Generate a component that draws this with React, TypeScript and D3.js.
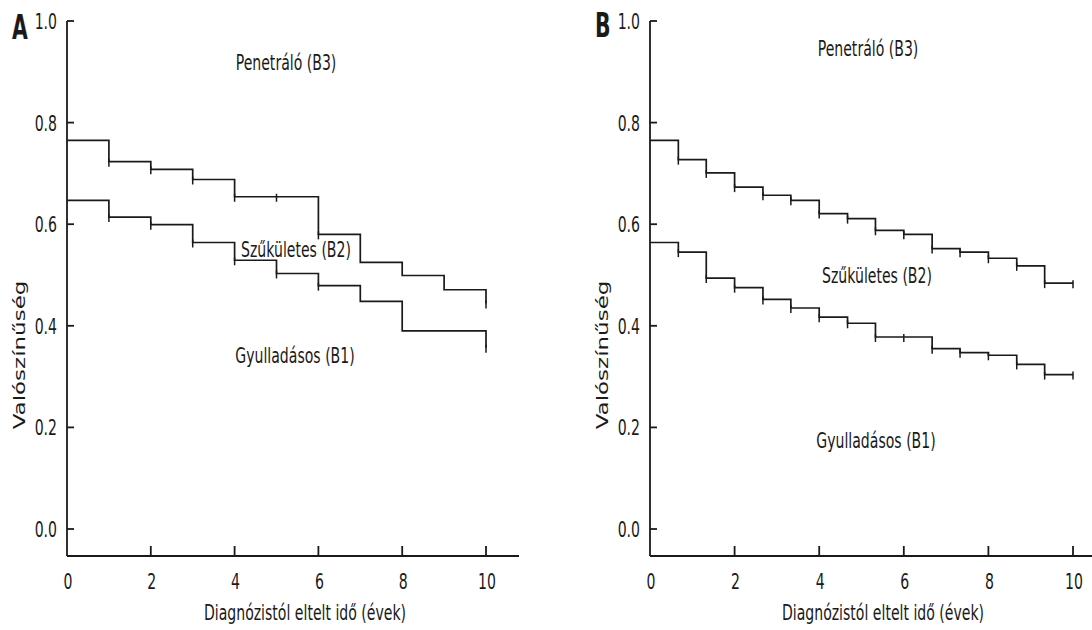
import React from "react";
import * as d3 from "d3";

// ---------- data ----------
const Y_TICKS = [0, 0.2, 0.4, 0.6, 0.8, 1.0];
const X_TICKS = [0, 2, 4, 6, 8, 10];

const REGION_LABELS = ["Penetráló (B3)", "Szűkületes (B2)", "Gyulladásos (B1)"];
const X_TITLE = "Diagnózistól eltelt idő (évek)";
const Y_TITLE = "Valószínűség";

// Panel A – upper boundary (B3 / B2)
const timesA_upper = [0, 1, 2, 3, 4, 6, 7, 8, 9, 10];
const valsA_upper = [0.765, 0.723, 0.708, 0.688, 0.654, 0.58, 0.525, 0.499, 0.471, 0.444];
const marksA_upper = [1, 2, 3, 4, 5, 6, 10];
// Panel A – lower boundary (B2 / B1)
const timesA_lower = [0, 1, 2, 3, 4, 5, 6, 7, 8, 10];
const valsA_lower = [0.647, 0.614, 0.599, 0.564, 0.529, 0.503, 0.479, 0.448, 0.39, 0.357];
const marksA_lower = [1, 2, 3, 4, 5, 6, 10];

// Panel B – upper boundary
const timesB_upper = [0, 0.67, 1.33, 2, 2.67, 3.33, 4, 4.67, 5.33, 6, 6.67, 7.33, 8, 8.67, 9.33, 10];
const valsB_upper = [0.765, 0.727, 0.701, 0.673, 0.657, 0.647, 0.621, 0.611, 0.588, 0.58, 0.552, 0.545, 0.533, 0.518, 0.484, 0.484];
const marksB_upper = [0.67, 1.33, 2, 2.67, 3.33, 4, 4.67, 5.33, 6, 6.67, 7.33, 8, 8.67, 9.33, 10];
// Panel B – lower boundary
const timesB_lower = [0, 0.67, 1.33, 2, 2.67, 3.33, 4, 4.67, 5.33, 6.67, 7.33, 8, 8.67, 9.33, 10];
const valsB_lower = [0.564, 0.545, 0.494, 0.475, 0.452, 0.435, 0.417, 0.405, 0.378, 0.355, 0.347, 0.342, 0.324, 0.304, 0.304];
const marksB_lower = [0.67, 1.33, 2, 2.67, 3.33, 4, 4.67, 5.33, 6, 6.67, 7.33, 8, 8.67, 9.33, 10];

// ---------- helpers ----------
const FONT = "'DejaVu Sans', Verdana, sans-serif";
const INK = "#1a1a1a";
const SX = 0.67;

type TProps = {
  x: number;
  y: number;
  children: React.ReactNode;
  anchor?: string;
  size?: number;
  sx?: number;
  weight?: string;
};
const Txt = ({ x, y, children, anchor = "middle", size = 21, sx = SX, weight = "normal" }: TProps) => (
  <text
    transform={`translate(${x},${y}) scale(${sx},1)`}
    textAnchor={anchor}
    fontSize={size}
    fontFamily={FONT}
    fontWeight={weight}
    fill={INK}
  >
    {children}
  </text>
);

function valueAt(times: number[], vals: number[], t: number) {
  let v = vals[0];
  for (let i = 0; i < times.length; i++) if (times[i] <= t + 1e-9) v = vals[i];
  return v;
}

type Curve = { times: number[]; vals: number[]; marks: number[] };

type PanelProps = {
  letter: string;
  x0: number;
  x10: number;
  axisEnd: number;
  letterX: number;
  letterY: number;
  labelPos: [number, number][];
  yTitleX: number;
  curves: Curve[];
};

const Y_TOP = 21;
const Y_ZERO = 529;
const AXIS_Y = 556;

const Panel = ({ letter, x0, x10, axisEnd, letterX, letterY, labelPos, yTitleX, curves }: PanelProps) => {
  const x = d3.scaleLinear().domain([0, 10]).range([x0, x10]);
  const y = d3.scaleLinear().domain([0, 1]).range([Y_ZERO, Y_TOP]);
  const line = d3
    .line<[number, number]>()
    .x((d) => x(d[0]))
    .y((d) => y(d[1]))
    .curve(d3.curveStepAfter);

  return (
    <g>
      {/* axes */}
      <line x1={x0} x2={x0} y1={y(1)} y2={AXIS_Y} stroke={INK} strokeWidth={1.8} />
      <line x1={x0} x2={axisEnd} y1={AXIS_Y} y2={AXIS_Y} stroke={INK} strokeWidth={1.8} />
      {Y_TICKS.map((t) => (
        <g key={"y" + t}>
          <line x1={x0} x2={x0 + 7} y1={y(t)} y2={y(t)} stroke={INK} strokeWidth={1.8} />
          <Txt x={x0 - 10} y={y(t) + 8} anchor="end">
            {t.toFixed(1)}
          </Txt>
        </g>
      ))}
      {X_TICKS.map((t) => (
        <g key={"x" + t}>
          {t > 0 && <line x1={x(t)} x2={x(t)} y1={AXIS_Y} y2={AXIS_Y - 10} stroke={INK} strokeWidth={1.8} />}
          <Txt x={x(t) + 1} y={589}>
            {String(t)}
          </Txt>
        </g>
      ))}
      <Txt x={(x0 + axisEnd) / 2 + 12} y={620}>
        {X_TITLE}
      </Txt>
      <text
        transform={`translate(${yTitleX},355) rotate(-90) scale(1,${SX})`}
        textAnchor="middle"
        fontSize={23}
        fontFamily={FONT}
        fill={INK}
      >
        {Y_TITLE}
      </text>
      <Txt x={letterX} y={letterY} anchor="start" size={34} sx={0.6} weight="bold">
        {letter}
      </Txt>

      {/* curves */}
      {curves.map((c, i) => {
        const pts: [number, number][] = c.times.map((t, k) => [t, c.vals[k]]);
        return (
          <g key={"c" + i}>
            <path d={line(pts) || ""} fill="none" stroke={INK} strokeWidth={1.7} />
            {c.marks.map((m) => {
              const v = valueAt(c.times, c.vals, m);
              return (
                <line
                  key={"m" + m}
                  x1={x(m)}
                  x2={x(m)}
                  y1={y(v) - 3}
                  y2={y(v) + 5}
                  stroke={INK}
                  strokeWidth={1.5}
                />
              );
            })}
          </g>
        );
      })}

      {/* region labels */}
      {REGION_LABELS.map((lab, i) => (
        <Txt key={lab} x={labelPos[i][0]} y={labelPos[i][1]}>
          {lab}
        </Txt>
      ))}
    </g>
  );
};

export default function App() {
  return (
    <div style={{ position: "absolute", left: 0, top: 0 }}>
      <svg width={1092} height={630} style={{ display: "block", background: "#fff" }}>
        <Panel
          letter="A"
          x0={67}
          x10={486}
          axisEnd={519}
          letterX={12}
          letterY={39}
          yTitleX={25}
          labelPos={[
            [286, 70],
            [296, 257],
            [295, 363],
          ]}
          curves={[
            { times: timesA_upper, vals: valsA_upper, marks: marksA_upper },
            { times: timesA_lower, vals: valsA_lower, marks: marksA_lower },
          ]}
        />
        <Panel
          letter="B"
          x0={650}
          x10={1073}
          axisEnd={1092}
          letterX={595}
          letterY={37}
          yTitleX={608}
          labelPos={[
            [868, 56],
            [877, 283],
            [876, 448],
          ]}
          curves={[
            { times: timesB_upper, vals: valsB_upper, marks: marksB_upper },
            { times: timesB_lower, vals: valsB_lower, marks: marksB_lower },
          ]}
        />
      </svg>
    </div>
  );
}
